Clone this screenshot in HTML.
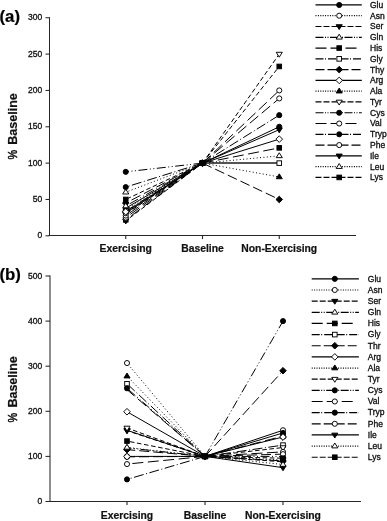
<!DOCTYPE html>
<html><head><meta charset="utf-8"><style>
html,body{margin:0;padding:0;background:#fff;}
body{width:387px;height:521px;overflow:hidden;}
svg{display:block;font-family:"Liberation Sans", sans-serif;will-change:transform;}
text{stroke:#000;stroke-width:0.3px;paint-order:stroke;}
text.b{stroke-width:0.2px;}
text.p{stroke-width:0.45px;}
</style></head><body>
<svg width="387" height="521" viewBox="0 0 387 521">
<rect width="387" height="521" fill="#fff"/>
<line x1="202.50" y1="163.12" x2="125.75" y2="208.18" stroke="#000" stroke-width="1.0"/>
<line x1="202.50" y1="163.12" x2="279.25" y2="126.78" stroke="#000" stroke-width="1.0"/>
<line x1="202.50" y1="163.12" x2="125.75" y2="213.27" stroke="#000" stroke-width="1.0" stroke-dasharray="1,2.4"/>
<line x1="202.50" y1="163.12" x2="279.25" y2="163.12" stroke="#555" stroke-width="1.5"/>
<line x1="202.50" y1="163.12" x2="125.75" y2="220.83" stroke="#000" stroke-width="1.0" stroke-dasharray="4.6,2.6"/>
<line x1="202.50" y1="163.12" x2="279.25" y2="163.12" stroke="#555" stroke-width="1.5"/>
<line x1="202.50" y1="163.12" x2="125.75" y2="206.00" stroke="#000" stroke-width="1.0" stroke-dasharray="9,2.5,1,2.5,1,2.5"/>
<line x1="202.50" y1="163.12" x2="279.25" y2="163.12" stroke="#555" stroke-width="1.5"/>
<line x1="202.50" y1="163.12" x2="125.75" y2="219.81" stroke="#000" stroke-width="1.0" stroke-dasharray="11,4.5"/>
<line x1="202.50" y1="163.12" x2="279.25" y2="147.85" stroke="#000" stroke-width="1.0" stroke-dasharray="11,4.5"/>
<line x1="202.50" y1="163.12" x2="125.75" y2="211.09" stroke="#000" stroke-width="1.0" stroke-dasharray="10,2.5,1,2.5"/>
<line x1="202.50" y1="163.12" x2="279.25" y2="163.12" stroke="#555" stroke-width="1.5"/>
<line x1="202.50" y1="163.12" x2="125.75" y2="203.09" stroke="#000" stroke-width="1.0" stroke-dasharray="10,4"/>
<line x1="202.50" y1="163.12" x2="279.25" y2="199.46" stroke="#000" stroke-width="1.0" stroke-dasharray="10,4"/>
<line x1="202.50" y1="163.12" x2="125.75" y2="211.81" stroke="#000" stroke-width="1.0"/>
<line x1="202.50" y1="163.12" x2="279.25" y2="139.13" stroke="#000" stroke-width="1.0"/>
<line x1="202.50" y1="163.12" x2="125.75" y2="209.63" stroke="#000" stroke-width="1.0" stroke-dasharray="1,2.4"/>
<line x1="202.50" y1="163.12" x2="279.25" y2="176.93" stroke="#000" stroke-width="1.0" stroke-dasharray="1,2.4"/>
<line x1="202.50" y1="163.12" x2="125.75" y2="214.00" stroke="#000" stroke-width="1.0" stroke-dasharray="4.6,2.6"/>
<line x1="202.50" y1="163.12" x2="279.25" y2="54.09" stroke="#000" stroke-width="1.0" stroke-dasharray="4.6,2.6"/>
<line x1="202.50" y1="163.12" x2="125.75" y2="171.84" stroke="#000" stroke-width="1.0" stroke-dasharray="9,2.5,1,2.5,1,2.5"/>
<line x1="202.50" y1="163.12" x2="279.25" y2="163.12" stroke="#555" stroke-width="1.5"/>
<line x1="202.50" y1="163.12" x2="125.75" y2="215.59" stroke="#000" stroke-width="1.0" stroke-dasharray="11,4.5"/>
<line x1="202.50" y1="163.12" x2="279.25" y2="90.43" stroke="#000" stroke-width="1.0" stroke-dasharray="11,4.5"/>
<line x1="202.50" y1="163.12" x2="125.75" y2="187.10" stroke="#000" stroke-width="1.0" stroke-dasharray="10,2.5,1,2.5"/>
<line x1="202.50" y1="163.12" x2="279.25" y2="115.15" stroke="#000" stroke-width="1.0" stroke-dasharray="10,2.5,1,2.5"/>
<line x1="202.50" y1="163.12" x2="125.75" y2="217.63" stroke="#000" stroke-width="1.0" stroke-dasharray="11,4.5"/>
<line x1="202.50" y1="163.12" x2="279.25" y2="98.43" stroke="#000" stroke-width="1.0" stroke-dasharray="11,4.5"/>
<line x1="202.50" y1="163.12" x2="125.75" y2="212.90" stroke="#000" stroke-width="1.0"/>
<line x1="202.50" y1="163.12" x2="279.25" y2="129.68" stroke="#000" stroke-width="1.0"/>
<line x1="202.50" y1="163.12" x2="125.75" y2="192.19" stroke="#000" stroke-width="1.0" stroke-dasharray="1,2.4"/>
<line x1="202.50" y1="163.12" x2="279.25" y2="155.85" stroke="#000" stroke-width="1.0" stroke-dasharray="1,2.4"/>
<line x1="202.50" y1="163.12" x2="125.75" y2="199.46" stroke="#000" stroke-width="1.0" stroke-dasharray="4.6,2.6"/>
<line x1="202.50" y1="163.12" x2="279.25" y2="66.45" stroke="#000" stroke-width="1.0" stroke-dasharray="4.6,2.6"/>
<circle cx="125.75" cy="208.18" r="2.55" fill="#000" stroke="#000" stroke-width="0.95"/>
<path d="M125.75,223.93L128.80,219.03L122.70,219.03Z" fill="#000" stroke="#000" stroke-width="0.95"/>
<rect x="123.45" y="217.51" width="4.60" height="4.60" fill="#000" stroke="#000" stroke-width="0.95"/>
<path d="M125.75,206.53L128.80,211.43L122.70,211.43Z" fill="#000" stroke="#000" stroke-width="0.95"/>
<path d="M125.75,216.00L128.80,211.10L122.70,211.10Z" fill="#000" stroke="#000" stroke-width="0.95"/>
<rect x="123.45" y="197.16" width="4.60" height="4.60" fill="#000" stroke="#000" stroke-width="0.95"/>
<path d="M125.75,199.79L129.05,203.09L125.75,206.39L122.45,203.09Z" fill="#000" stroke="#000" stroke-width="0.95"/>
<circle cx="125.75" cy="171.84" r="2.55" fill="#000" stroke="#000" stroke-width="0.95"/>
<path d="M125.75,217.09L128.80,212.19L122.70,212.19Z" fill="#fff" stroke="#000" stroke-width="0.95"/>
<circle cx="125.75" cy="217.63" r="2.55" fill="#fff" stroke="#000" stroke-width="0.95"/>
<circle cx="125.75" cy="215.59" r="2.55" fill="#fff" stroke="#000" stroke-width="0.95"/>
<circle cx="125.75" cy="213.27" r="2.55" fill="#fff" stroke="#000" stroke-width="0.95"/>
<rect x="123.45" y="208.79" width="4.60" height="4.60" fill="#fff" stroke="#000" stroke-width="0.95"/>
<path d="M125.75,208.51L129.05,211.81L125.75,215.11L122.45,211.81Z" fill="#fff" stroke="#000" stroke-width="0.95"/>
<path d="M125.75,202.90L128.80,207.80L122.70,207.80Z" fill="#fff" stroke="#000" stroke-width="0.95"/>
<path d="M125.75,189.09L128.80,193.99L122.70,193.99Z" fill="#fff" stroke="#000" stroke-width="0.95"/>
<circle cx="125.75" cy="187.10" r="2.55" fill="#000" stroke="#000" stroke-width="0.95"/>
<circle cx="202.50" cy="163.12" r="2.55" fill="#000" stroke="#000" stroke-width="0.95"/>
<circle cx="202.50" cy="163.12" r="2.55" fill="#fff" stroke="#000" stroke-width="0.95"/>
<path d="M202.50,166.22L205.55,161.32L199.45,161.32Z" fill="#000" stroke="#000" stroke-width="0.95"/>
<path d="M202.50,160.02L205.55,164.92L199.45,164.92Z" fill="#fff" stroke="#000" stroke-width="0.95"/>
<rect x="200.20" y="160.82" width="4.60" height="4.60" fill="#000" stroke="#000" stroke-width="0.95"/>
<rect x="200.20" y="160.82" width="4.60" height="4.60" fill="#fff" stroke="#000" stroke-width="0.95"/>
<path d="M202.50,159.82L205.80,163.12L202.50,166.42L199.20,163.12Z" fill="#000" stroke="#000" stroke-width="0.95"/>
<path d="M202.50,159.82L205.80,163.12L202.50,166.42L199.20,163.12Z" fill="#fff" stroke="#000" stroke-width="0.95"/>
<path d="M202.50,160.02L205.55,164.92L199.45,164.92Z" fill="#000" stroke="#000" stroke-width="0.95"/>
<path d="M202.50,166.22L205.55,161.32L199.45,161.32Z" fill="#fff" stroke="#000" stroke-width="0.95"/>
<circle cx="202.50" cy="163.12" r="2.55" fill="#000" stroke="#000" stroke-width="0.95"/>
<circle cx="202.50" cy="163.12" r="2.55" fill="#fff" stroke="#000" stroke-width="0.95"/>
<circle cx="202.50" cy="163.12" r="2.55" fill="#000" stroke="#000" stroke-width="0.95"/>
<circle cx="202.50" cy="163.12" r="2.55" fill="#fff" stroke="#000" stroke-width="0.95"/>
<path d="M202.50,166.22L205.55,161.32L199.45,161.32Z" fill="#000" stroke="#000" stroke-width="0.95"/>
<path d="M202.50,160.02L205.55,164.92L199.45,164.92Z" fill="#fff" stroke="#000" stroke-width="0.95"/>
<rect x="200.20" y="160.82" width="4.60" height="4.60" fill="#000" stroke="#000" stroke-width="0.95"/>
<circle cx="279.25" cy="126.78" r="2.55" fill="#000" stroke="#000" stroke-width="0.95"/>



<rect x="276.95" y="145.55" width="4.60" height="4.60" fill="#000" stroke="#000" stroke-width="0.95"/>
<rect x="276.95" y="160.82" width="4.60" height="4.60" fill="#fff" stroke="#000" stroke-width="0.95"/>
<path d="M279.25,196.16L282.55,199.46L279.25,202.76L275.95,199.46Z" fill="#000" stroke="#000" stroke-width="0.95"/>
<path d="M279.25,135.83L282.55,139.13L279.25,142.43L275.95,139.13Z" fill="#fff" stroke="#000" stroke-width="0.95"/>
<path d="M279.25,173.83L282.30,178.73L276.20,178.73Z" fill="#000" stroke="#000" stroke-width="0.95"/>
<path d="M279.25,57.19L282.30,52.29L276.20,52.29Z" fill="#fff" stroke="#000" stroke-width="0.95"/>

<circle cx="279.25" cy="90.43" r="2.55" fill="#fff" stroke="#000" stroke-width="0.95"/>
<circle cx="279.25" cy="115.15" r="2.55" fill="#000" stroke="#000" stroke-width="0.95"/>
<circle cx="279.25" cy="98.43" r="2.55" fill="#fff" stroke="#000" stroke-width="0.95"/>
<path d="M279.25,132.78L282.30,127.88L276.20,127.88Z" fill="#000" stroke="#000" stroke-width="0.95"/>
<path d="M279.25,152.75L282.30,157.65L276.20,157.65Z" fill="#fff" stroke="#000" stroke-width="0.95"/>
<rect x="276.95" y="64.15" width="4.60" height="4.60" fill="#000" stroke="#000" stroke-width="0.95"/>
<line x1="49.5" y1="17.25" x2="49.5" y2="236.00" stroke="#262626" stroke-width="1.05"/>
<line x1="48.50" y1="235.5" x2="356.00" y2="235.5" stroke="#262626" stroke-width="1.05"/>
<line x1="45.5" y1="235.80" x2="49.5" y2="235.80" stroke="#262626" stroke-width="1.05"/>
<text x="42.2" y="238.30" font-size="8.5" text-anchor="end" fill="#111">0</text>
<line x1="45.5" y1="199.46" x2="49.5" y2="199.46" stroke="#262626" stroke-width="1.05"/>
<text x="42.2" y="201.96" font-size="8.5" text-anchor="end" fill="#111">50</text>
<line x1="45.5" y1="163.12" x2="49.5" y2="163.12" stroke="#262626" stroke-width="1.05"/>
<text x="42.2" y="165.62" font-size="8.5" text-anchor="end" fill="#111">100</text>
<line x1="45.5" y1="126.78" x2="49.5" y2="126.78" stroke="#262626" stroke-width="1.05"/>
<text x="42.2" y="129.28" font-size="8.5" text-anchor="end" fill="#111">150</text>
<line x1="45.5" y1="90.43" x2="49.5" y2="90.43" stroke="#262626" stroke-width="1.05"/>
<text x="42.2" y="92.93" font-size="8.5" text-anchor="end" fill="#111">200</text>
<line x1="45.5" y1="54.09" x2="49.5" y2="54.09" stroke="#262626" stroke-width="1.05"/>
<text x="42.2" y="56.59" font-size="8.5" text-anchor="end" fill="#111">250</text>
<line x1="45.5" y1="17.75" x2="49.5" y2="17.75" stroke="#262626" stroke-width="1.05"/>
<text x="42.2" y="20.25" font-size="8.5" text-anchor="end" fill="#111">300</text>
<line x1="125.75" y1="235.5" x2="125.75" y2="239.10" stroke="#262626" stroke-width="1.1"/>
<line x1="202.50" y1="235.5" x2="202.50" y2="239.10" stroke="#262626" stroke-width="1.1"/>
<line x1="279.25" y1="235.5" x2="279.25" y2="239.10" stroke="#262626" stroke-width="1.1"/>
<text class="b" x="125.75" y="251.8" font-size="10.35" font-weight="bold" text-anchor="middle" fill="#111">Exercising</text>
<text class="b" x="202.50" y="251.8" font-size="10.35" font-weight="bold" text-anchor="middle" fill="#111">Baseline</text>
<text class="b" x="279.25" y="251.8" font-size="10.35" font-weight="bold" text-anchor="middle" fill="#111">Non-Exercising</text>
<text class="b" transform="translate(16.7,144.7) rotate(-90)" font-size="12.5" font-weight="bold" fill="#111">Baseline</text>
<text class="p" transform="translate(16.7,159.5) rotate(-90) scale(0.87,1)" font-size="12.5" fill="#111">%</text>
<text class="b" x="-0.5" y="21.6" font-size="16.8" font-weight="bold" fill="#000">(a)</text>
<line x1="315.50" y1="4.94" x2="361.80" y2="4.94" stroke="#000" stroke-width="1.2"/>
<circle cx="339.20" cy="4.94" r="2.55" fill="#000" stroke="#000" stroke-width="0.95"/>
<text x="370.0" y="7.84" font-size="8.5" fill="#111">Glu</text>
<line x1="315.50" y1="15.72" x2="361.80" y2="15.72" stroke="#000" stroke-width="1.2" stroke-dasharray="1,1.4"/>
<circle cx="339.20" cy="15.72" r="2.55" fill="#fff" stroke="#000" stroke-width="0.95"/>
<text x="370.0" y="18.62" font-size="8.5" fill="#111">Asn</text>
<line x1="315.50" y1="26.50" x2="361.80" y2="26.50" stroke="#000" stroke-width="1.2" stroke-dasharray="6,2"/>
<path d="M339.20,29.60L342.25,24.70L336.15,24.70Z" fill="#000" stroke="#000" stroke-width="0.95"/>
<text x="370.0" y="29.40" font-size="8.5" fill="#111">Ser</text>
<line x1="315.50" y1="37.28" x2="361.80" y2="37.28" stroke="#000" stroke-width="1.2" stroke-dasharray="8,1.5,1,1.5,1,1.5"/>
<path d="M339.20,34.18L342.25,39.08L336.15,39.08Z" fill="#fff" stroke="#000" stroke-width="0.95"/>
<text x="370.0" y="40.18" font-size="8.5" fill="#111">Gln</text>
<line x1="315.50" y1="48.06" x2="356.70" y2="48.06" stroke="#000" stroke-width="1.2" stroke-dasharray="11,4"/>
<rect x="336.90" y="45.76" width="4.60" height="4.60" fill="#000" stroke="#000" stroke-width="0.95"/>
<text x="370.0" y="50.96" font-size="8.5" fill="#111">His</text>
<line x1="315.50" y1="58.84" x2="361.80" y2="58.84" stroke="#000" stroke-width="1.2" stroke-dasharray="8,1.5,1,2"/>
<rect x="336.90" y="56.54" width="4.60" height="4.60" fill="#fff" stroke="#000" stroke-width="0.95"/>
<text x="370.0" y="61.74" font-size="8.5" fill="#111">Gly</text>
<line x1="315.50" y1="69.62" x2="361.80" y2="69.62" stroke="#000" stroke-width="1.2" stroke-dasharray="9,3"/>
<path d="M339.20,66.32L342.50,69.62L339.20,72.92L335.90,69.62Z" fill="#000" stroke="#000" stroke-width="0.95"/>
<text x="370.0" y="72.52" font-size="8.5" fill="#111">Thy</text>
<line x1="315.50" y1="80.40" x2="361.80" y2="80.40" stroke="#000" stroke-width="1.2"/>
<path d="M339.20,77.10L342.50,80.40L339.20,83.70L335.90,80.40Z" fill="#fff" stroke="#000" stroke-width="0.95"/>
<text x="370.0" y="83.30" font-size="8.5" fill="#111">Arg</text>
<line x1="315.50" y1="91.18" x2="361.80" y2="91.18" stroke="#000" stroke-width="1.2" stroke-dasharray="1,1.4"/>
<path d="M339.20,88.08L342.25,92.98L336.15,92.98Z" fill="#000" stroke="#000" stroke-width="0.95"/>
<text x="370.0" y="94.08" font-size="8.5" fill="#111">Ala</text>
<line x1="315.50" y1="101.96" x2="361.80" y2="101.96" stroke="#000" stroke-width="1.2" stroke-dasharray="6,2"/>
<path d="M339.20,105.06L342.25,100.16L336.15,100.16Z" fill="#fff" stroke="#000" stroke-width="0.95"/>
<text x="370.0" y="104.86" font-size="8.5" fill="#111">Tyr</text>
<line x1="315.50" y1="112.74" x2="361.80" y2="112.74" stroke="#000" stroke-width="1.2" stroke-dasharray="8,1.5,1,1.5,1,1.5"/>
<circle cx="339.20" cy="112.74" r="2.55" fill="#000" stroke="#000" stroke-width="0.95"/>
<text x="370.0" y="115.64" font-size="8.5" fill="#111">Cys</text>
<line x1="315.50" y1="123.52" x2="356.70" y2="123.52" stroke="#000" stroke-width="1.2" stroke-dasharray="11,4"/>
<circle cx="339.20" cy="123.52" r="2.55" fill="#fff" stroke="#000" stroke-width="0.95"/>
<text x="370.0" y="126.42" font-size="8.5" fill="#111">Val</text>
<line x1="315.50" y1="134.30" x2="361.80" y2="134.30" stroke="#000" stroke-width="1.2" stroke-dasharray="8,1.5,1,2"/>
<circle cx="339.20" cy="134.30" r="2.55" fill="#000" stroke="#000" stroke-width="0.95"/>
<text x="370.0" y="137.20" font-size="8.5" fill="#111">Tryp</text>
<line x1="315.50" y1="145.08" x2="361.80" y2="145.08" stroke="#000" stroke-width="1.2" stroke-dasharray="9,3"/>
<circle cx="339.20" cy="145.08" r="2.55" fill="#fff" stroke="#000" stroke-width="0.95"/>
<text x="370.0" y="147.98" font-size="8.5" fill="#111">Phe</text>
<line x1="315.50" y1="155.86" x2="361.80" y2="155.86" stroke="#000" stroke-width="1.2"/>
<path d="M339.20,158.96L342.25,154.06L336.15,154.06Z" fill="#000" stroke="#000" stroke-width="0.95"/>
<text x="370.0" y="158.76" font-size="8.5" fill="#111">Ile</text>
<line x1="315.50" y1="166.64" x2="361.80" y2="166.64" stroke="#000" stroke-width="1.2" stroke-dasharray="1,1.4"/>
<path d="M339.20,163.54L342.25,168.44L336.15,168.44Z" fill="#fff" stroke="#000" stroke-width="0.95"/>
<text x="370.0" y="169.54" font-size="8.5" fill="#111">Leu</text>
<line x1="315.50" y1="177.42" x2="361.80" y2="177.42" stroke="#000" stroke-width="1.2" stroke-dasharray="6,2"/>
<rect x="336.90" y="175.12" width="4.60" height="4.60" fill="#000" stroke="#000" stroke-width="0.95"/>
<text x="370.0" y="180.32" font-size="8.5" fill="#111">Lys</text>
<line x1="205.00" y1="456.40" x2="127.00" y2="456.40" stroke="#000" stroke-width="1.0"/>
<line x1="205.00" y1="456.40" x2="283.00" y2="432.95" stroke="#000" stroke-width="1.0"/>
<line x1="205.00" y1="456.40" x2="127.00" y2="363.04" stroke="#000" stroke-width="1.0" stroke-dasharray="1,2.4"/>
<line x1="205.00" y1="456.40" x2="283.00" y2="430.24" stroke="#000" stroke-width="1.0"/>
<line x1="205.00" y1="456.40" x2="127.00" y2="430.69" stroke="#000" stroke-width="1.0" stroke-dasharray="4.6,2.6"/>
<line x1="205.00" y1="456.40" x2="283.00" y2="461.81" stroke="#000" stroke-width="1.0" stroke-dasharray="4.6,2.6"/>
<line x1="205.00" y1="456.40" x2="127.00" y2="447.83" stroke="#000" stroke-width="1.0" stroke-dasharray="9,2.5,1,2.5,1,2.5"/>
<line x1="205.00" y1="456.40" x2="283.00" y2="456.40" stroke="#000" stroke-width="1.0" stroke-dasharray="9,2.5,1,2.5,1,2.5"/>
<line x1="205.00" y1="456.40" x2="127.00" y2="389.65" stroke="#000" stroke-width="1.0" stroke-dasharray="11,4.5"/>
<line x1="205.00" y1="456.40" x2="283.00" y2="436.11" stroke="#000" stroke-width="1.0" stroke-dasharray="11,4.5"/>
<line x1="205.00" y1="456.40" x2="127.00" y2="383.79" stroke="#000" stroke-width="1.0" stroke-dasharray="10,2.5,1,2.5"/>
<line x1="205.00" y1="456.40" x2="283.00" y2="445.12" stroke="#000" stroke-width="1.0" stroke-dasharray="10,2.5,1,2.5"/>
<line x1="205.00" y1="456.40" x2="127.00" y2="449.63" stroke="#000" stroke-width="1.0" stroke-dasharray="10,4"/>
<line x1="205.00" y1="456.40" x2="283.00" y2="370.71" stroke="#000" stroke-width="1.0" stroke-dasharray="10,4"/>
<line x1="205.00" y1="456.40" x2="127.00" y2="411.75" stroke="#000" stroke-width="1.0"/>
<line x1="205.00" y1="456.40" x2="283.00" y2="437.01" stroke="#000" stroke-width="1.0"/>
<line x1="205.00" y1="456.40" x2="127.00" y2="376.12" stroke="#000" stroke-width="1.0" stroke-dasharray="1,2.4"/>
<line x1="205.00" y1="456.40" x2="283.00" y2="460.01" stroke="#000" stroke-width="1.0" stroke-dasharray="1,2.4"/>
<line x1="205.00" y1="456.40" x2="127.00" y2="427.99" stroke="#000" stroke-width="1.0" stroke-dasharray="4.6,2.6"/>
<line x1="205.00" y1="456.40" x2="283.00" y2="447.56" stroke="#000" stroke-width="1.0" stroke-dasharray="4.6,2.6"/>
<line x1="205.00" y1="456.40" x2="127.00" y2="388.30" stroke="#000" stroke-width="1.0" stroke-dasharray="9,2.5,1,2.5,1,2.5"/>
<line x1="205.00" y1="456.40" x2="283.00" y2="321.10" stroke="#000" stroke-width="1.0" stroke-dasharray="9,2.5,1,2.5,1,2.5"/>
<line x1="205.00" y1="456.40" x2="127.00" y2="464.07" stroke="#000" stroke-width="1.0" stroke-dasharray="11,4.5"/>
<line x1="205.00" y1="456.40" x2="283.00" y2="451.89" stroke="#000" stroke-width="1.0" stroke-dasharray="11,4.5"/>
<line x1="205.00" y1="456.40" x2="127.00" y2="479.40" stroke="#000" stroke-width="1.0" stroke-dasharray="10,2.5,1,2.5"/>
<line x1="205.00" y1="456.40" x2="283.00" y2="460.91" stroke="#000" stroke-width="1.0" stroke-dasharray="10,2.5,1,2.5"/>
<line x1="205.00" y1="456.40" x2="127.00" y2="456.85" stroke="#000" stroke-width="1.0" stroke-dasharray="10,4"/>
<line x1="205.00" y1="456.40" x2="283.00" y2="454.14" stroke="#000" stroke-width="1.0" stroke-dasharray="10,4"/>
<line x1="205.00" y1="456.40" x2="127.00" y2="430.24" stroke="#000" stroke-width="1.0"/>
<line x1="205.00" y1="456.40" x2="283.00" y2="467.68" stroke="#000" stroke-width="1.0"/>
<line x1="205.00" y1="456.40" x2="127.00" y2="447.38" stroke="#000" stroke-width="1.0" stroke-dasharray="1,2.4"/>
<line x1="205.00" y1="456.40" x2="283.00" y2="464.52" stroke="#000" stroke-width="1.0" stroke-dasharray="1,2.4"/>
<line x1="205.00" y1="456.40" x2="127.00" y2="441.07" stroke="#000" stroke-width="1.0" stroke-dasharray="4.6,2.6"/>
<line x1="205.00" y1="456.40" x2="283.00" y2="458.20" stroke="#000" stroke-width="1.0" stroke-dasharray="4.6,2.6"/>
<circle cx="127.00" cy="456.40" r="2.55" fill="#000" stroke="#000" stroke-width="0.95"/>
<path d="M127.00,433.79L130.05,428.89L123.95,428.89Z" fill="#000" stroke="#000" stroke-width="0.95"/>

<path d="M127.00,446.33L130.30,449.63L127.00,452.94L123.70,449.63Z" fill="#000" stroke="#000" stroke-width="0.95"/>
<path d="M127.00,373.02L130.05,377.92L123.95,377.92Z" fill="#000" stroke="#000" stroke-width="0.95"/>
<path d="M127.00,433.34L130.05,428.44L123.95,428.44Z" fill="#000" stroke="#000" stroke-width="0.95"/>
<rect x="124.70" y="438.77" width="4.60" height="4.60" fill="#000" stroke="#000" stroke-width="0.95"/>
<circle cx="127.00" cy="479.40" r="2.55" fill="#000" stroke="#000" stroke-width="0.95"/>
<rect x="124.70" y="381.49" width="4.60" height="4.60" fill="#fff" stroke="#000" stroke-width="0.95"/>
<circle cx="127.00" cy="388.30" r="2.55" fill="#000" stroke="#000" stroke-width="0.95"/>
<circle cx="127.00" cy="363.04" r="2.55" fill="#fff" stroke="#000" stroke-width="0.95"/>
<path d="M127.00,444.73L130.05,449.63L123.95,449.63Z" fill="#fff" stroke="#000" stroke-width="0.95"/>
<path d="M127.00,408.45L130.30,411.75L127.00,415.05L123.70,411.75Z" fill="#fff" stroke="#000" stroke-width="0.95"/>
<path d="M127.00,431.09L130.05,426.19L123.95,426.19Z" fill="#fff" stroke="#000" stroke-width="0.95"/>
<circle cx="127.00" cy="464.07" r="2.55" fill="#fff" stroke="#000" stroke-width="0.95"/>
<circle cx="127.00" cy="456.85" r="2.55" fill="#fff" stroke="#000" stroke-width="0.95"/>
<path d="M127.00,444.28L130.05,449.18L123.95,449.18Z" fill="#fff" stroke="#000" stroke-width="0.95"/>
<circle cx="205.00" cy="456.40" r="2.55" fill="#000" stroke="#000" stroke-width="0.95"/>
<circle cx="205.00" cy="456.40" r="2.55" fill="#fff" stroke="#000" stroke-width="0.95"/>
<path d="M205.00,459.50L208.05,454.60L201.95,454.60Z" fill="#000" stroke="#000" stroke-width="0.95"/>
<path d="M205.00,453.30L208.05,458.20L201.95,458.20Z" fill="#fff" stroke="#000" stroke-width="0.95"/>
<rect x="202.70" y="454.10" width="4.60" height="4.60" fill="#000" stroke="#000" stroke-width="0.95"/>
<rect x="202.70" y="454.10" width="4.60" height="4.60" fill="#fff" stroke="#000" stroke-width="0.95"/>
<path d="M205.00,453.10L208.30,456.40L205.00,459.70L201.70,456.40Z" fill="#000" stroke="#000" stroke-width="0.95"/>
<path d="M205.00,453.10L208.30,456.40L205.00,459.70L201.70,456.40Z" fill="#fff" stroke="#000" stroke-width="0.95"/>
<path d="M205.00,453.30L208.05,458.20L201.95,458.20Z" fill="#000" stroke="#000" stroke-width="0.95"/>
<path d="M205.00,459.50L208.05,454.60L201.95,454.60Z" fill="#fff" stroke="#000" stroke-width="0.95"/>
<circle cx="205.00" cy="456.40" r="2.55" fill="#000" stroke="#000" stroke-width="0.95"/>
<circle cx="205.00" cy="456.40" r="2.55" fill="#fff" stroke="#000" stroke-width="0.95"/>
<circle cx="205.00" cy="456.40" r="2.55" fill="#000" stroke="#000" stroke-width="0.95"/>
<circle cx="205.00" cy="456.40" r="2.55" fill="#fff" stroke="#000" stroke-width="0.95"/>
<path d="M205.00,459.50L208.05,454.60L201.95,454.60Z" fill="#000" stroke="#000" stroke-width="0.95"/>
<path d="M205.00,453.30L208.05,458.20L201.95,458.20Z" fill="#fff" stroke="#000" stroke-width="0.95"/>
<rect x="202.70" y="454.10" width="4.60" height="4.60" fill="#000" stroke="#000" stroke-width="0.95"/>
<circle cx="283.00" cy="430.24" r="2.55" fill="#fff" stroke="#000" stroke-width="0.95"/>
<circle cx="283.00" cy="432.95" r="2.55" fill="#000" stroke="#000" stroke-width="0.95"/>
<path d="M283.00,464.91L286.05,460.01L279.95,460.01Z" fill="#000" stroke="#000" stroke-width="0.95"/>
<path d="M283.00,453.30L286.05,458.20L279.95,458.20Z" fill="#fff" stroke="#000" stroke-width="0.95"/>
<rect x="280.70" y="433.81" width="4.60" height="4.60" fill="#000" stroke="#000" stroke-width="0.95"/>
<rect x="280.70" y="442.82" width="4.60" height="4.60" fill="#fff" stroke="#000" stroke-width="0.95"/>
<path d="M283.00,367.41L286.30,370.71L283.00,374.01L279.70,370.71Z" fill="#000" stroke="#000" stroke-width="0.95"/>
<path d="M283.00,433.71L286.30,437.01L283.00,440.31L279.70,437.01Z" fill="#fff" stroke="#000" stroke-width="0.95"/>
<path d="M283.00,456.91L286.05,461.81L279.95,461.81Z" fill="#000" stroke="#000" stroke-width="0.95"/>
<path d="M283.00,450.66L286.05,445.76L279.95,445.76Z" fill="#fff" stroke="#000" stroke-width="0.95"/>
<circle cx="283.00" cy="321.10" r="2.55" fill="#000" stroke="#000" stroke-width="0.95"/>
<circle cx="283.00" cy="451.89" r="2.55" fill="#fff" stroke="#000" stroke-width="0.95"/>
<circle cx="283.00" cy="460.91" r="2.55" fill="#000" stroke="#000" stroke-width="0.95"/>
<circle cx="283.00" cy="454.14" r="2.55" fill="#fff" stroke="#000" stroke-width="0.95"/>
<path d="M283.00,470.78L286.05,465.88L279.95,465.88Z" fill="#000" stroke="#000" stroke-width="0.95"/>
<path d="M283.00,461.42L286.05,466.32L279.95,466.32Z" fill="#fff" stroke="#000" stroke-width="0.95"/>
<rect x="280.70" y="455.90" width="4.60" height="4.60" fill="#000" stroke="#000" stroke-width="0.95"/>
<path d="M127.00,453.28L130.30,456.58L127.00,459.88L123.70,456.58Z" fill="#fff" stroke="#000" stroke-width="0.95"/>
<path d="M283.00,433.71L286.30,437.01L283.00,440.31L279.70,437.01Z" fill="#fff" stroke="#000" stroke-width="0.95"/>
<line x1="50.0" y1="275.50" x2="50.0" y2="502.00" stroke="#262626" stroke-width="1.05"/>
<line x1="48.50" y1="501.5" x2="361.00" y2="501.5" stroke="#262626" stroke-width="1.05"/>
<line x1="45.5" y1="501.50" x2="50.0" y2="501.50" stroke="#262626" stroke-width="1.05"/>
<text x="42.2" y="504.00" font-size="8.5" text-anchor="end" fill="#111">0</text>
<line x1="45.5" y1="456.40" x2="50.0" y2="456.40" stroke="#262626" stroke-width="1.05"/>
<text x="42.2" y="458.90" font-size="8.5" text-anchor="end" fill="#111">100</text>
<line x1="45.5" y1="411.30" x2="50.0" y2="411.30" stroke="#262626" stroke-width="1.05"/>
<text x="42.2" y="413.80" font-size="8.5" text-anchor="end" fill="#111">200</text>
<line x1="45.5" y1="366.20" x2="50.0" y2="366.20" stroke="#262626" stroke-width="1.05"/>
<text x="42.2" y="368.70" font-size="8.5" text-anchor="end" fill="#111">300</text>
<line x1="45.5" y1="321.10" x2="50.0" y2="321.10" stroke="#262626" stroke-width="1.05"/>
<text x="42.2" y="323.60" font-size="8.5" text-anchor="end" fill="#111">400</text>
<line x1="45.5" y1="276.00" x2="50.0" y2="276.00" stroke="#262626" stroke-width="1.05"/>
<text x="42.2" y="278.50" font-size="8.5" text-anchor="end" fill="#111">500</text>
<line x1="127.00" y1="501.5" x2="127.00" y2="505.10" stroke="#262626" stroke-width="1.1"/>
<line x1="205.00" y1="501.5" x2="205.00" y2="505.10" stroke="#262626" stroke-width="1.1"/>
<line x1="283.00" y1="501.5" x2="283.00" y2="505.10" stroke="#262626" stroke-width="1.1"/>
<text class="b" x="127.00" y="519.0" font-size="10.35" font-weight="bold" text-anchor="middle" fill="#111">Exercising</text>
<text class="b" x="205.00" y="519.0" font-size="10.35" font-weight="bold" text-anchor="middle" fill="#111">Baseline</text>
<text class="b" x="283.00" y="519.0" font-size="10.35" font-weight="bold" text-anchor="middle" fill="#111">Non-Exercising</text>
<text class="b" transform="translate(16.7,407.59999999999997) rotate(-90)" font-size="12.5" font-weight="bold" fill="#111">Baseline</text>
<text class="p" transform="translate(16.7,422.4) rotate(-90) scale(0.87,1)" font-size="12.5" fill="#111">%</text>
<text class="b" x="-0.5" y="280.4" font-size="16.8" font-weight="bold" fill="#000">(b)</text>
<line x1="311.70" y1="278.83" x2="358.90" y2="278.83" stroke="#000" stroke-width="1.2"/>
<circle cx="334.80" cy="278.83" r="2.55" fill="#000" stroke="#000" stroke-width="0.95"/>
<text x="367.8" y="281.63" font-size="8.5" fill="#111">Glu</text>
<line x1="311.70" y1="289.98" x2="358.90" y2="289.98" stroke="#000" stroke-width="1.2" stroke-dasharray="1,1.4"/>
<circle cx="334.80" cy="289.98" r="2.55" fill="#fff" stroke="#000" stroke-width="0.95"/>
<text x="367.8" y="292.78" font-size="8.5" fill="#111">Asn</text>
<line x1="311.70" y1="301.13" x2="358.90" y2="301.13" stroke="#000" stroke-width="1.2" stroke-dasharray="6,2"/>
<path d="M334.80,304.23L337.85,299.33L331.75,299.33Z" fill="#000" stroke="#000" stroke-width="0.95"/>
<text x="367.8" y="303.93" font-size="8.5" fill="#111">Ser</text>
<line x1="311.70" y1="312.28" x2="358.90" y2="312.28" stroke="#000" stroke-width="1.2" stroke-dasharray="8,1.5,1,1.5,1,1.5"/>
<path d="M334.80,309.18L337.85,314.08L331.75,314.08Z" fill="#fff" stroke="#000" stroke-width="0.95"/>
<text x="367.8" y="315.08" font-size="8.5" fill="#111">Gln</text>
<line x1="311.70" y1="323.43" x2="352.90" y2="323.43" stroke="#000" stroke-width="1.2" stroke-dasharray="11,4"/>
<rect x="332.50" y="321.13" width="4.60" height="4.60" fill="#000" stroke="#000" stroke-width="0.95"/>
<text x="367.8" y="326.23" font-size="8.5" fill="#111">His</text>
<line x1="311.70" y1="334.58" x2="358.90" y2="334.58" stroke="#000" stroke-width="1.2" stroke-dasharray="8,1.5,1,2"/>
<rect x="332.50" y="332.28" width="4.60" height="4.60" fill="#fff" stroke="#000" stroke-width="0.95"/>
<text x="367.8" y="337.38" font-size="8.5" fill="#111">Gly</text>
<line x1="311.70" y1="345.73" x2="358.90" y2="345.73" stroke="#000" stroke-width="1.2" stroke-dasharray="9,3"/>
<path d="M334.80,342.43L338.10,345.73L334.80,349.03L331.50,345.73Z" fill="#000" stroke="#000" stroke-width="0.95"/>
<text x="367.8" y="348.53" font-size="8.5" fill="#111">Thr</text>
<line x1="311.70" y1="356.88" x2="358.90" y2="356.88" stroke="#000" stroke-width="1.2"/>
<path d="M334.80,353.58L338.10,356.88L334.80,360.18L331.50,356.88Z" fill="#fff" stroke="#000" stroke-width="0.95"/>
<text x="367.8" y="359.68" font-size="8.5" fill="#111">Arg</text>
<line x1="311.70" y1="368.03" x2="358.90" y2="368.03" stroke="#000" stroke-width="1.2" stroke-dasharray="1,1.4"/>
<path d="M334.80,364.93L337.85,369.83L331.75,369.83Z" fill="#000" stroke="#000" stroke-width="0.95"/>
<text x="367.8" y="370.83" font-size="8.5" fill="#111">Ala</text>
<line x1="311.70" y1="379.18" x2="358.90" y2="379.18" stroke="#000" stroke-width="1.2" stroke-dasharray="6,2"/>
<path d="M334.80,382.28L337.85,377.38L331.75,377.38Z" fill="#fff" stroke="#000" stroke-width="0.95"/>
<text x="367.8" y="381.98" font-size="8.5" fill="#111">Tyr</text>
<line x1="311.70" y1="390.33" x2="358.90" y2="390.33" stroke="#000" stroke-width="1.2" stroke-dasharray="8,1.5,1,1.5,1,1.5"/>
<circle cx="334.80" cy="390.33" r="2.55" fill="#000" stroke="#000" stroke-width="0.95"/>
<text x="367.8" y="393.13" font-size="8.5" fill="#111">Cys</text>
<line x1="311.70" y1="401.48" x2="352.90" y2="401.48" stroke="#000" stroke-width="1.2" stroke-dasharray="11,4"/>
<circle cx="334.80" cy="401.48" r="2.55" fill="#fff" stroke="#000" stroke-width="0.95"/>
<text x="367.8" y="404.28" font-size="8.5" fill="#111">Val</text>
<line x1="311.70" y1="412.63" x2="358.90" y2="412.63" stroke="#000" stroke-width="1.2" stroke-dasharray="8,1.5,1,2"/>
<circle cx="334.80" cy="412.63" r="2.55" fill="#000" stroke="#000" stroke-width="0.95"/>
<text x="367.8" y="415.43" font-size="8.5" fill="#111">Tryp</text>
<line x1="311.70" y1="423.78" x2="358.90" y2="423.78" stroke="#000" stroke-width="1.2" stroke-dasharray="9,3"/>
<circle cx="334.80" cy="423.78" r="2.55" fill="#fff" stroke="#000" stroke-width="0.95"/>
<text x="367.8" y="426.58" font-size="8.5" fill="#111">Phe</text>
<line x1="311.70" y1="434.93" x2="358.90" y2="434.93" stroke="#000" stroke-width="1.2"/>
<path d="M334.80,438.03L337.85,433.13L331.75,433.13Z" fill="#000" stroke="#000" stroke-width="0.95"/>
<text x="367.8" y="437.73" font-size="8.5" fill="#111">Ile</text>
<line x1="311.70" y1="446.08" x2="358.90" y2="446.08" stroke="#000" stroke-width="1.2" stroke-dasharray="1,1.4"/>
<path d="M334.80,442.98L337.85,447.88L331.75,447.88Z" fill="#fff" stroke="#000" stroke-width="0.95"/>
<text x="367.8" y="448.88" font-size="8.5" fill="#111">Leu</text>
<line x1="311.70" y1="457.23" x2="358.90" y2="457.23" stroke="#000" stroke-width="1.2" stroke-dasharray="6,2"/>
<rect x="332.50" y="454.93" width="4.60" height="4.60" fill="#000" stroke="#000" stroke-width="0.95"/>
<text x="367.8" y="460.03" font-size="8.5" fill="#111">Lys</text>
</svg>
</body></html>
